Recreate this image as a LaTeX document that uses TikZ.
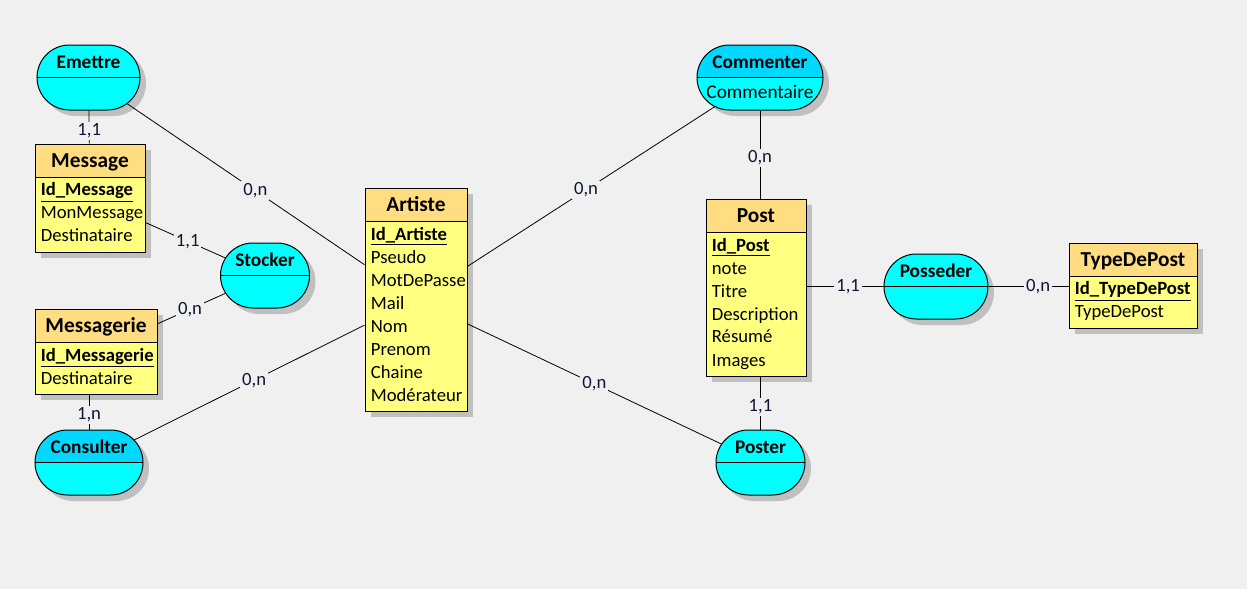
\documentclass[tikz,border=0pt]{standalone}
\usepackage{fontspec}
\setmainfont{Carlito}
\usetikzlibrary{shapes.misc, shadows, positioning}

\definecolor{bgcol}{RGB}{240,240,240}
\definecolor{entbody}{RGB}{255,255,128}
\definecolor{enthead}{RGB}{255,221,128}
\definecolor{relbody}{RGB}{0,255,255}
\definecolor{reltop}{RGB}{0,216,255}
\definecolor{cardcol}{RGB}{20,20,50}
\definecolor{shadowcol}{RGB}{192,192,192}

\newcommand{\reltext}[2]{\strut\makebox[0pt]{#1}\\\strut\makebox[0pt]{\mdseries #2}}

\begin{document}
\begin{tikzpicture}[x=0.75pt, y=-0.75pt, semithick]
                \tikzset{
                    boxshadow/.style={drop shadow={shadow xshift=4.5pt, shadow yshift=-4.5pt, fill=shadowcol, opacity=1}},
                    entity/.style={rectangle, draw, line width=0.75pt, fill=entbody, inner sep=0pt, boxshadow,
                        path picture={
                            \fill[enthead] (path picture bounding box.north west) rectangle ([yshift=-24.75pt]path picture bounding box.north east);
                            \draw[line width=0.75pt] ([yshift=-24.75pt]path picture bounding box.north west) -- ([yshift=-24.75pt]path picture bounding box.north east);}},
                    enttitle/.style={inner sep=0pt, anchor=base, font=\bfseries\fontsize{16}{18}\selectfont},
                    entattr/.style={inner sep=0pt, anchor=north west, align=left, font=\fontsize{14}{17.25}\selectfont},
                    relation/.style={rounded rectangle, draw, line width=0.75pt, fill=relbody, inner sep=0pt,
                        minimum height=48.75pt, align=center, boxshadow, font=\bfseries\fontsize{14.5}{22.5}\selectfont,
                        path picture={\draw[line width=0.75pt] (path picture bounding box.west) -- (path picture bounding box.east);}},
                    reldark/.style={path picture={
                            \fill[reltop] (path picture bounding box.north west) rectangle (path picture bounding box.east);
                            \draw[line width=0.75pt] (path picture bounding box.west) -- (path picture bounding box.east);}},
                    link/.style={line width=0.6pt},
                    card/.style={fill=bgcol, inner sep=1.5pt, text=cardcol, font=\fontsize{14}{16}\selectfont}
                };
                \fill[bgcol] (0, 0) rectangle (1247, 589);
                % entities
                \node[entity, minimum width=82.5pt, minimum height=81pt] (message) at (90, 198) {};
                \node[enttitle] (message-t) at ([yshift=-18pt]message.north) {Message};
                \node[entattr] (message-a) at ([xshift=4.5pt, yshift=-29.25pt]message.north west) {\underline{\textbf{Id\_Message}}\\MonMessage\\Destinataire};
                \node[entity, minimum width=91.5pt, minimum height=63.75pt] (messagerie) at (96, 351.5) {};
                \node[enttitle] (messagerie-t) at ([yshift=-18pt]messagerie.north) {Messagerie};
                \node[entattr] (messagerie-a) at ([xshift=4.5pt, yshift=-29.25pt]messagerie.north west) {\underline{\textbf{Id\_Messagerie}}\\Destinataire};
                \node[entity, minimum width=76.5pt, minimum height=167.25pt] (artiste) at (416, 299.5) {};
                \node[enttitle] (artiste-t) at ([yshift=-18pt]artiste.north) {Artiste};
                \node[entattr] (artiste-a) at ([xshift=4.5pt, yshift=-29.25pt]artiste.north west) {\underline{\textbf{Id\_Artiste}}\\Pseudo\\MotDePasse\\Mail\\Nom\\Prenom\\Chaine\\Modérateur};
                \node[entity, minimum width=75pt, minimum height=132.75pt] (post) at (756, 287.5) {};
                \node[enttitle] (post-t) at ([yshift=-18pt]post.north) {Post};
                \node[entattr] (post-a) at ([xshift=4.5pt, yshift=-29.25pt]post.north west) {\underline{\textbf{Id\_Post}}\\note\\Titre\\Description\\Résumé\\Images};
                \node[entity, minimum width=96pt, minimum height=63.75pt] (typedepost) at (1133, 285.5) {};
                \node[enttitle] (typedepost-t) at ([yshift=-18pt]typedepost.north) {TypeDePost};
                \node[entattr] (typedepost-a) at ([xshift=4.5pt, yshift=-29.25pt]typedepost.north west) {\underline{\textbf{Id\_TypeDePost}}\\TypeDePost};
                % relations
                \node[relation, minimum width=77.25pt] (emettre) at (88.5, 77.5) {\reltext{Emettre}{}};
                \node[relation, minimum width=66.75pt] (stocker) at (265, 275.5) {\reltext{Stocker}{}};
                \node[relation, reldark, minimum width=81pt] (consulter) at (89, 462.5) {\reltext{Consulter}{}};
                \node[relation, reldark, minimum width=94.5pt] (commenter) at (760, 77.5) {\reltext{Commenter}{Commentaire}};
                \node[relation, minimum width=66.75pt] (poster) at (760.5, 462.5) {\reltext{Poster}{}};
                \node[relation, minimum width=78pt] (posseder) at (936, 286.5) {\reltext{Posseder}{}};
                % links
                \draw[link] (emettre) -- node[card, pos=0.62] (c-em-msg) {1,1} (message);
                \draw[link] (emettre) -- node[card, pos=0.54] (c-em-art) {0,n} (artiste);
                \draw[link] (message) -- node[card, pos=0.53] (c-msg-st) {1,1} (stocker);
                \draw[link] (messagerie) -- node[card, pos=0.48] (c-mgr-st) {0,n} (stocker);
                \draw[link] (consulter.north) -- node[card, pos=0.42] (c-co-mgr) {1,n} (consulter.north |- messagerie.south);
                \draw[link] (consulter) -- node[card, pos=0.52] (c-co-art) {0,n} (artiste);
                \draw[link] (artiste) -- node[card, pos=0.48] (c-art-cm) {0,n} (commenter);
                \draw[link] (artiste) -- node[card, pos=0.5] (c-art-po) {0,n} (poster);
                \draw[link] (commenter.south) -- node[card, pos=0.54] (c-cm-post) {0,n} (commenter.south |- post.north);
                \draw[link] (poster.north) -- node[card, pos=0.43] (c-po-post) {1,1} (poster.north |- post.south);
                \draw[link] (posseder.west) -- node[card, pos=0.46] (c-ps-post) {1,1} (posseder.west -| post.east);
                \draw[link] (posseder.east) -- node[card, pos=0.62] (c-ps-type) {0,n} (posseder.east -| typedepost.west);
            \end{tikzpicture}
\end{document}
